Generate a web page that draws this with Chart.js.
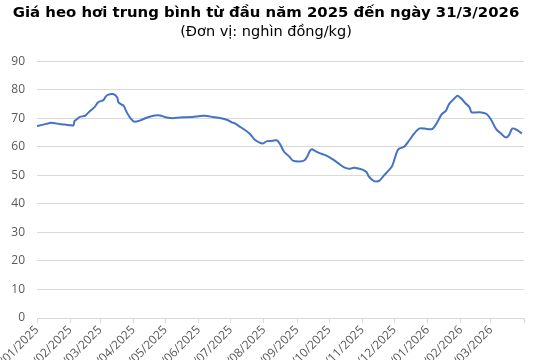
<!DOCTYPE html>
<html>
<head>
<meta charset="utf-8">
<script src="https://cdn.jsdelivr.net/npm/chart.js@4.4.1/dist/chart.umd.min.js"></script>
<style>
html,body{margin:0;padding:0;background:#fff;overflow:hidden;width:540px;height:360px;}
canvas{display:block;}
</style>
</head>
<body>
<canvas id="c" width="540" height="360"></canvas>
<script>
// Day offsets from 01/01/2025 and average live-hog price (thousand VND/kg)
const days = [0,5,12,17,21,26,31,34,35,37,40,45,48,51,54,57,62,64,66,71,75,76,79,81,84,88,91,96,103,110,115,120,127,133,140,145,155,159,164,171,178,182,185,189,194,199,203,208,211,215,220,224,227,231,236,239,245,250,253,255,257,261,264,270,276,282,287,292,295,298,304,308,310,315,320,324,329,332,336,338,343,348,352,357,362,369,373,378,382,385,390,393,397,401,404,406,413,420,424,429,434,438,441,444,448,453];
const prices = [67.3,67.7,68.4,68.3,68.0,67.8,67.6,67.5,69.0,69.6,70.5,70.9,72.0,73.0,74.0,75.6,76.4,77.5,78.2,78.5,77.3,75.6,74.8,74.4,72.0,69.7,68.8,69.2,70.3,71.0,71.0,70.4,70.0,70.3,70.4,70.5,70.9,70.8,70.5,70.1,69.4,68.6,68.2,67.2,66.0,64.5,62.7,61.5,61.2,62.0,62.1,62.3,61.0,58.2,56.5,55.2,54.9,55.3,57.0,58.6,59.2,58.3,57.8,57.0,55.7,54.1,52.8,52.3,52.6,52.6,52.0,51.1,49.6,48.0,48.2,49.9,51.9,53.4,58.0,59.3,60.0,62.4,64.5,66.4,66.4,66.2,68.0,71.4,72.6,75.0,77.0,77.9,76.7,75.0,74.0,72.1,72.1,71.5,69.7,66.2,64.5,63.3,64.1,66.4,66.0,64.7];
// Month-start tick positions (day offsets) and their labels
const monthTicks = [0,31,59,90,120,151,181,212,243,273,304,334,365,396,424,455];
const monthLabels = ["01/01/2025","01/02/2025","01/03/2025","01/04/2025","01/05/2025","01/06/2025","01/07/2025","01/08/2025","01/09/2025","01/10/2025","01/11/2025","01/12/2025","01/01/2026","01/02/2026","01/03/2026",""];
const yTicks = [0,10,20,30,40,50,60,70,80,90];
const titleText = "Giá heo hơi trung bình từ đầu năm 2025 đến ngày 31/3/2026";
const subtitleText = "(Đơn vị: nghìn đồng/kg)";

const points = days.map((d,i)=>({x:d,y:prices[i]}));
const tickFont = {family:"'Open Sans', 'Liberation Sans', sans-serif", size:12};

new Chart(document.getElementById('c'), {
  type:'line',
  data:{datasets:[{data:points,borderColor:'#4472C4',borderWidth:2,pointRadius:0,tension:0.25,fill:false}]},
  options:{
    responsive:false, animation:false, devicePixelRatio:1,
    layout:{padding:{left:0,right:8,top:0,bottom:0}},
    plugins:{
      legend:{display:false}, tooltip:{enabled:false},
      title:{display:true,text:titleText,color:'#000',font:{family:"'DejaVu Sans', sans-serif",size:14.9,weight:'bold',lineHeight:1.2},padding:{top:4,bottom:2}},
      subtitle:{display:true,text:subtitleText,color:'#000',font:{family:"'DejaVu Sans', sans-serif",size:14.5,weight:'normal',lineHeight:1.2},padding:{top:0,bottom:20}}
    },
    scales:{
      x:{type:'linear',min:0,max:455,
        afterBuildTicks:(s)=>{s.ticks=monthTicks.map(v=>({value:v}));},
        afterFit:(s)=>{s.height=42;s.paddingLeft=0;s.paddingRight=16;},
        ticks:{autoSkip:false,minRotation:45,maxRotation:45,color:'#595959',font:tickFont,padding:0,
          callback:(v,i)=>monthLabels[i]},
        grid:{drawOnChartArea:false,drawTicks:true,tickLength:5,color:'#d9d9d9'},
        border:{display:true,color:'#d9d9d9'}
      },
      y:{min:0,max:90,
        afterBuildTicks:(s)=>{s.ticks=yTicks.map(v=>({value:v}));},
        afterFit:(s)=>{s.width=37;},
        ticks:{color:'#595959',font:tickFont,padding:12},
        grid:{drawTicks:false,color:'#d9d9d9'},
        border:{display:false}
      }
    }
  }
});
</script>
</body>
</html>
